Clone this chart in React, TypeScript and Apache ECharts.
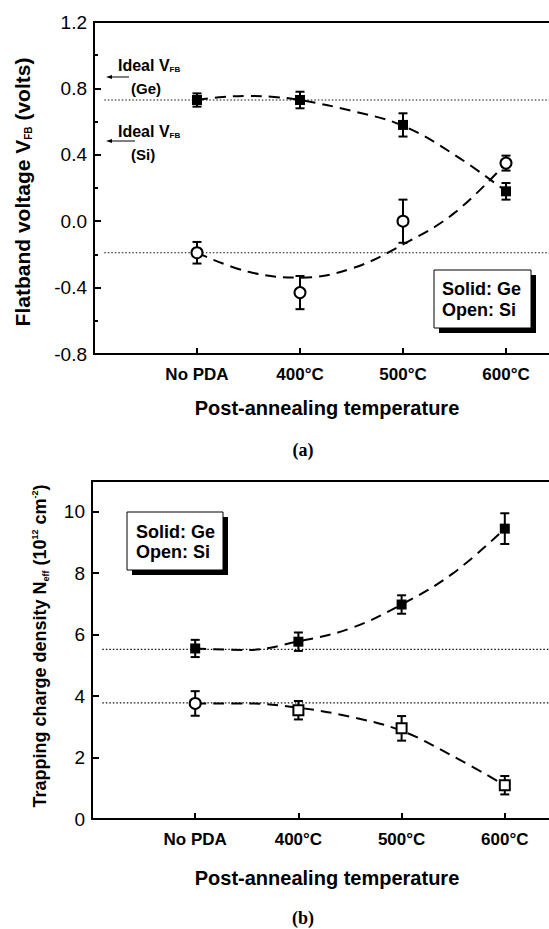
import React, { useEffect, useRef } from 'react';
import * as echarts from 'echarts';

// ---------- data ----------
const categories = ['No PDA', '400°C', '500°C', '600°C'];
const catPos = [1, 2, 3, 4];

// (a) flatband voltage (V)
const vfbGe = [0.73, 0.73, 0.58, 0.18];
const vfbGeErr = [0.04, 0.05, 0.07, 0.05];
const vfbSi = [-0.19, -0.43, 0.0, 0.35];
const vfbSiErr = [0.065, 0.1, 0.13, 0.045];
const vfbIdealGe = 0.73;
const vfbIdealSi = -0.19;
const vfbFitGeX = [1, 1.25, 1.5, 1.75, 2, 2.5, 3, 3.5, 4];
const vfbFitGeY = [0.73, 0.748, 0.755, 0.748, 0.73, 0.665, 0.575, 0.4, 0.18];
const vfbFitSiX = [1, 1.5, 2, 2.5, 3, 3.5, 4];
const vfbFitSiY = [-0.19, -0.305, -0.34, -0.285, -0.14, 0.05, 0.35];
const vfbTicks = [-0.8, -0.4, 0, 0.4, 0.8, 1.2];

// (b) trapping charge density (1e12 cm^-2)
const nGe = [5.55, 5.77, 6.98, 9.45];
const nGeErr = [0.28, 0.3, 0.3, 0.5];
const nSi = [3.76, 3.54, 2.95, 1.1];
const nSiErr = [0.4, 0.3, 0.4, 0.3];
const nSiSymbols = ['circle', 'rect', 'rect', 'rect'];
const nIdealGe = 5.52;
const nIdealSi = 3.78;
const nFitX = [1, 1.5, 2, 2.5, 3, 3.5, 4];
const nFitGeY = [5.55, 5.5, 5.78, 6.2, 6.98, 8.0, 9.45];
const nFitSiY = [3.76, 3.76, 3.62, 3.33, 2.87, 2.04, 1.1];
const nTicks = [0, 2, 4, 6, 8, 10];

// x range of the (cropped) figure, in category units
const X_MAX = 5;

// ---------- style ----------
const SANS = '"Liberation Sans", Arial, Helvetica, sans-serif';
const SERIF = '"Liberation Serif", "Times New Roman", serif';
const BLACK = '#000';

function errorBars(axisIdx: number, vals: number[], errs: number[]) {
  return {
    type: 'custom',
    xAxisIndex: axisIdx,
    yAxisIndex: axisIdx,
    silent: true,
    z: 3,
    encode: { x: 0, y: 1 },
    data: vals.map((v, i) => [catPos[i], v, errs[i]]),
    renderItem: (_p: any, api: any) => {
      const x = api.value(0);
      const y = api.value(1);
      const e = api.value(2);
      const t = api.coord([x, y + e]);
      const b = api.coord([x, y - e]);
      const st = { stroke: BLACK, lineWidth: 2 };
      const c = 4.5;
      return {
        type: 'group',
        children: [
          { type: 'line', shape: { x1: t[0], y1: t[1], x2: b[0], y2: b[1] }, style: st },
          { type: 'line', shape: { x1: t[0] - c, y1: t[1], x2: t[0] + c, y2: t[1] }, style: st },
          { type: 'line', shape: { x1: b[0] - c, y1: b[1], x2: b[0] + c, y2: b[1] }, style: st },
        ],
      };
    },
  };
}

function fitLine(axisIdx: number, xs: number[], ys: number[]) {
  return {
    type: 'line',
    xAxisIndex: axisIdx,
    yAxisIndex: axisIdx,
    data: xs.map((x, i) => [x, ys[i]]),
    symbol: 'none',
    smooth: 0.4,
    silent: true,
    clip: false,
    z: 2,
    lineStyle: { color: BLACK, width: 2, type: [11, 7] },
  };
}

function idealLine(axisIdx: number, v: number) {
  return {
    type: 'line',
    xAxisIndex: axisIdx,
    yAxisIndex: axisIdx,
    data: [[0.1, v], [X_MAX, v]],
    symbol: 'none',
    silent: true,
    z: 1,
    lineStyle: { color: '#111', width: 1.2, type: [1.5, 2] },
  };
}

function xAxisCfg(gridIndex: number) {
  return {
    type: 'value',
    gridIndex,
    min: 0,
    max: X_MAX,
    splitLine: { show: false },
    axisLine: { show: true, onZero: false, lineStyle: { color: BLACK, width: 2 } },
    axisTick: { show: true, inside: true, length: 6, customValues: catPos, lineStyle: { color: BLACK, width: 2 } },
    axisLabel: {
      customValues: catPos,
      formatter: (v: number) => categories[Math.round(v) - 1] ?? '',
      color: BLACK,
      fontFamily: SANS,
      fontWeight: 'bold',
      fontSize: 17,
      margin: 12,
    },
  };
}

// top frame edge: an axis with only its line shown
function topFrame(gridIndex: number) {
  return {
    type: 'value',
    gridIndex,
    position: 'top',
    min: 0,
    max: X_MAX,
    splitLine: { show: false },
    axisLine: { show: true, onZero: false, lineStyle: { color: BLACK, width: 2 } },
    axisTick: { show: false },
    axisLabel: { show: false },
  };
}

function legendBox(x: number, y: number, w: number, h: number, tx: number, ty1: number, ty2: number) {
  return [
    { type: 'rect', shape: { x: x + 5, y: y + 5, width: w, height: h }, style: { fill: BLACK }, z: 10 },
    { type: 'rect', shape: { x, y, width: w, height: h }, style: { fill: '#fff', stroke: BLACK, lineWidth: 1 }, z: 11 },
    { type: 'text', x: tx, y: ty1, z: 12, style: { text: 'Solid: Ge', fill: BLACK, font: `bold 18px ${SANS}`, verticalAlign: 'middle' } },
    { type: 'text', x: tx, y: ty2, z: 12, style: { text: 'Open: Si', fill: BLACK, font: `bold 18px ${SANS}`, verticalAlign: 'middle' } },
  ];
}

function idealLabel(x: number, y: number, sub: string, arrowY: number, arrowX2: number) {
  return [
    {
      type: 'text', x, y, z: 12,
      style: {
        text: '{b|Ideal V}{s|FB}',
        verticalAlign: 'middle',
        rich: {
          b: { fontFamily: SANS, fontWeight: 'bold', fontSize: 16, lineHeight: 16, fill: BLACK },
          s: { fontFamily: SANS, fontWeight: 'bold', fontSize: 8, lineHeight: 4, verticalAlign: 'bottom', fill: BLACK },
        },
      },
    },
    { type: 'text', x: x + 13, y: y + 23, z: 12, style: { text: sub, fill: BLACK, font: `bold 15px ${SANS}`, verticalAlign: 'middle' } },
    { type: 'line', z: 12, shape: { x1: 110, y1: arrowY, x2: arrowX2, y2: arrowY }, style: { stroke: BLACK, lineWidth: 1 } },
    { type: 'polygon', z: 12, shape: { points: [[106, arrowY], [112, arrowY - 2], [112, arrowY + 2]] }, style: { fill: BLACK } },
  ];
}

export default function App() {
  const ref = useRef<HTMLDivElement>(null);

  useEffect(() => {
    if (!ref.current) return;
    const chart = echarts.init(ref.current, undefined, { renderer: 'svg' });

    const option: any = {
      animation: false,
      backgroundColor: '#fff',
      grid: [
        { left: 94, top: 22, width: 515, height: 332, show: false, outerBoundsMode: 'none' },
        { left: 92, top: 481, width: 516, height: 338, show: false, outerBoundsMode: 'none' },
      ],
      xAxis: [xAxisCfg(0), xAxisCfg(1), topFrame(0), topFrame(1)],
      yAxis: [
        {
          type: 'value',
          gridIndex: 0,
          min: -0.8,
          max: 1.2,
          interval: 0.4,
          splitLine: { show: false },
          axisLine: { show: true, onZero: false, lineStyle: { color: BLACK, width: 2 } },
          axisTick: { show: true, inside: true, length: 7, lineStyle: { color: BLACK, width: 2 } },
          minorTick: { show: true, splitNumber: 2, length: 4, lineStyle: { color: BLACK, width: 2 } },
          minorSplitLine: { show: false },
          axisLabel: {
            customValues: vfbTicks,
            formatter: (v: number) => v.toFixed(1),
            color: BLACK,
            fontFamily: SANS,
            fontSize: 19,
            margin: 7,
          },
        },
        {
          type: 'value',
          gridIndex: 1,
          min: 0,
          max: 11,
          interval: 2,
          splitLine: { show: false },
          axisLine: { show: true, onZero: false, lineStyle: { color: BLACK, width: 2 } },
          axisTick: { show: true, inside: true, length: 7, customValues: nTicks, lineStyle: { color: BLACK, width: 2 } },
          axisLabel: {
            customValues: nTicks,
            formatter: (v: number) => String(v),
            color: BLACK,
            fontFamily: SANS,
            fontSize: 19,
            margin: 7,
          },
        },
      ],
      series: [
        idealLine(0, vfbIdealGe),
        idealLine(0, vfbIdealSi),
        fitLine(0, vfbFitGeX, vfbFitGeY),
        fitLine(0, vfbFitSiX, vfbFitSiY),
        errorBars(0, vfbGe, vfbGeErr),
        errorBars(0, vfbSi, vfbSiErr),
        {
          type: 'scatter', xAxisIndex: 0, yAxisIndex: 0, z: 4, silent: true,
          symbol: 'rect', symbolSize: 10,
          itemStyle: { color: BLACK, opacity: 1 },
          data: vfbGe.map((v, i) => [catPos[i], v]),
        },
        {
          type: 'scatter', xAxisIndex: 0, yAxisIndex: 0, z: 4, silent: true,
          symbol: 'circle', symbolSize: 11,
          itemStyle: { color: '#fff', borderColor: BLACK, borderWidth: 2, opacity: 1 },
          data: vfbSi.map((v, i) => [catPos[i], v]),
        },

        idealLine(1, nIdealGe),
        idealLine(1, nIdealSi),
        fitLine(1, nFitX, nFitGeY),
        fitLine(1, nFitX, nFitSiY),
        errorBars(1, nGe, nGeErr),
        errorBars(1, nSi, nSiErr),
        {
          type: 'scatter', xAxisIndex: 1, yAxisIndex: 1, z: 4, silent: true,
          symbol: 'rect', symbolSize: 10,
          itemStyle: { color: BLACK, opacity: 1 },
          data: nGe.map((v, i) => [catPos[i], v]),
        },
        {
          type: 'scatter', xAxisIndex: 1, yAxisIndex: 1, z: 4, silent: true,
          itemStyle: { color: '#fff', borderColor: BLACK, borderWidth: 2, opacity: 1 },
          data: nSi.map((v, i) => ({
            value: [catPos[i], v],
            symbol: nSiSymbols[i],
            symbolSize: nSiSymbols[i] === 'circle' ? 11 : 10,
          })),
        },
      ],
      graphic: [
        // y-axis titles
        {
          type: 'text', x: 22, y: 192, rotation: Math.PI / 2, z: 12,
          style: {
            text: '{b|Flatband voltage V}{s|FB}{b| (volts)}',
            align: 'center', verticalAlign: 'middle',
            rich: {
              b: { fontFamily: SANS, fontWeight: 'bold', fontSize: 21, lineHeight: 22, fill: BLACK },
              s: { fontFamily: SANS, fontWeight: 'bold', fontSize: 10, lineHeight: 6, verticalAlign: 'bottom', fill: BLACK },
            },
          },
        },
        {
          type: 'text', x: 40, y: 646, rotation: Math.PI / 2, z: 12,
          style: {
            text: '{b|Trapping charge density N}{s|eff}{b| (10}{p|12}{b| cm}{p|-2}{b|)}',
            align: 'center', verticalAlign: 'middle',
            rich: {
              b: { fontFamily: SANS, fontWeight: 'bold', fontSize: 18, lineHeight: 20, fill: BLACK },
              s: { fontFamily: SANS, fontWeight: 'bold', fontSize: 9, lineHeight: 5, verticalAlign: 'bottom', fill: BLACK },
              p: { fontFamily: SANS, fontWeight: 'bold', fontSize: 9, lineHeight: 5, verticalAlign: 'top', fill: BLACK },
            },
          },
        },
        // x-axis titles
        { type: 'text', x: 327, y: 408, z: 12, style: { text: 'Post-annealing temperature', fill: BLACK, font: `bold 20px ${SANS}`, align: 'center', verticalAlign: 'middle' } },
        { type: 'text', x: 327, y: 878, z: 12, style: { text: 'Post-annealing temperature', fill: BLACK, font: `bold 20px ${SANS}`, align: 'center', verticalAlign: 'middle' } },
        // panel captions
        { type: 'text', x: 303, y: 450, z: 12, style: { text: '(a)', fill: BLACK, font: `bold 18px ${SERIF}`, align: 'center', verticalAlign: 'middle' } },
        { type: 'text', x: 303, y: 918, z: 12, style: { text: '(b)', fill: BLACK, font: `bold 18px ${SERIF}`, align: 'center', verticalAlign: 'middle' } },
        // ideal VFB labels
        ...idealLabel(118, 65, '(Ge)', 77, 129),
        ...idealLabel(118, 131, '(Si)', 141, 135),
        // legend boxes
        ...legendBox(434, 270, 97, 58, 442, 289, 310),
        ...legendBox(127, 512, 96, 58, 136, 532, 552),
      ],
    };

    chart.setOption(option);
    return () => chart.dispose();
  }, []);

  return (
    <div style={{ position: 'absolute', left: 0, top: 0, width: 549, height: 929, overflow: 'hidden', background: '#fff' }}>
      <div ref={ref} style={{ width: 700, height: 929 }} />
    </div>
  );
}
